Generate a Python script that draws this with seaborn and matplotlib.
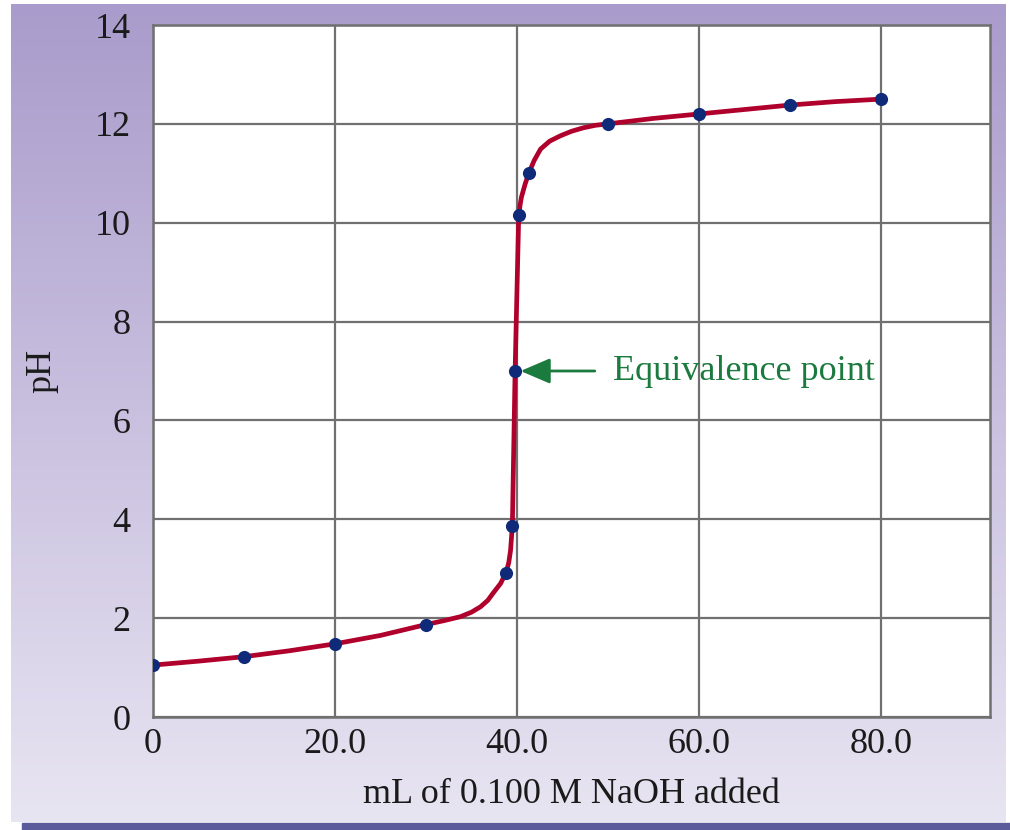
import numpy as np
import matplotlib
matplotlib.use("Agg")
import matplotlib.pyplot as plt
from matplotlib.colors import LinearSegmentedColormap
from matplotlib.patches import Rectangle
import seaborn as sns

# titration data points (mL NaOH, pH)
ml_points = [0, 10, 20, 30, 38.8, 39.5, 39.8, 40.2, 41.3, 50, 60, 70, 80]
ph_points = [1.05, 1.22, 1.48, 1.87, 2.92, 3.87, 7.0, 10.15, 11.0, 12.0, 12.2, 12.38, 12.5]

# points
curve_ml = [0, 5, 10, 15, 20, 25, 30, 32, 33.8, 35, 36.0, 36.8, 37.4, 38.2, 38.8, 39.1, 39.3,
            39.5, 39.8, 40.2, 40.35, 40.5, 40.9, 41.3, 41.9, 42.6, 43.6, 44.8, 46, 47.3,
            48.6, 50, 55, 60, 65, 70, 75, 80]
curve_ph = [1.05, 1.13, 1.22, 1.34, 1.48, 1.65, 1.87, 1.95, 2.03, 2.12, 2.23, 2.36, 2.51, 2.7, 2.92,
            3.12, 3.37, 3.87, 7.0, 10.15, 10.36, 10.52, 10.78, 11.0, 11.26, 11.49, 11.65, 11.76,
            11.85, 11.92, 11.97, 12.0, 12.11, 12.2, 12.29, 12.38, 12.45, 12.5]

x_ticks = [0, 20, 40, 60, 80]
x_ticklabels = ["0", "20.0", "40.0", "60.0", "80.0"]
y_ticks = [0, 2, 4, 6, 8, 10, 12, 14]

sns.set_theme(style="white")
plt.rcParams['font.family'] = ['Liberation Serif', 'DejaVu Serif']

W, H = 1010, 830
fig = plt.figure(figsize=(W / 100, H / 100), dpi=100)
fig.patch.set_facecolor("white")

# purple gradient panel behind everything
bg = fig.add_axes([0, 0, 1, 1], zorder=-5)
bg.set_xlim(0, W)
bg.set_ylim(H, 0)
bg.axis("off")
cmap = LinearSegmentedColormap.from_list("panel", ["#a99bcb", "#c9c0df", "#e8e5f2"])
grad = np.linspace(0, 1, 256).reshape(-1, 1)
bg.imshow(grad, cmap=cmap, aspect="auto", extent=[11, 1006, 822, 5], zorder=0)
bg.add_patch(Rectangle((22, 823), W - 22, 8, color="#5b5b9c", zorder=1))

ax = fig.add_axes([153 / W, (H - 717) / H, (990 - 153) / W, (717 - 25) / H])
ax.set_facecolor("white")

grid_col = "#707070"
sns.lineplot(x=curve_ml, y=curve_ph, sort=False, estimator=None, color="#b0002c",
             linewidth=3.4, ax=ax, zorder=3)
sns.scatterplot(x=ml_points, y=ph_points, s=90, color="#0f2a78", edgecolor="#0f2a78",
                linewidth=0, ax=ax, zorder=4)

ax.set_xlim(0, 92)
ax.set_ylim(0, 14)
ax.set_xticks(x_ticks)
ax.set_xticklabels(x_ticklabels)
ax.set_yticks(y_ticks)
ax.grid(True, color=grid_col, linewidth=1.6)
ax.set_axisbelow(True)
for sp in ax.spines.values():
    sp.set_color(grid_col)
    sp.set_linewidth(1.8)
    sp.set_visible(True)
ax.tick_params(axis="both", length=0, labelsize=26, colors="#1a1a1a")
ax.tick_params(axis="x", pad=8)
ax.tick_params(axis="y", pad=16)

ax.set_xlabel("mL of 0.100 M NaOH added", fontsize=26, color="#1a1a1a", labelpad=12)
ax.set_ylabel("pH", fontsize=26, color="#1a1a1a", labelpad=26)

green = "#1b7a3e"
ax.annotate("Equivalence point", xy=(40.4, 7.0), xytext=(50.6, 7.0),
            ha="left", va="center", fontsize=26, color=green,
            arrowprops=dict(arrowstyle="-|>,head_length=0.7,head_width=0.3",
                            color=green, lw=2, shrinkA=11, shrinkB=0))

fig.savefig("out.png", dpi=100)
